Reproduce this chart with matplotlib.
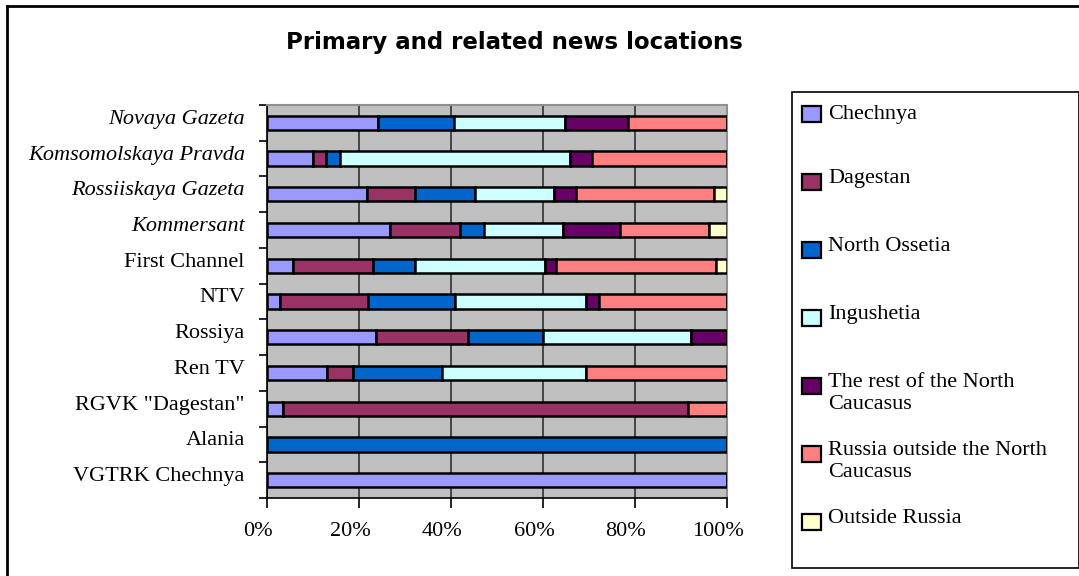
import matplotlib
matplotlib.use('Agg')
import matplotlib.pyplot as plt
import numpy as np
from matplotlib.patches import Rectangle
from matplotlib.lines import Line2D
from matplotlib.transforms import ScaledTranslation

# outlets, top to bottom
outlets = ['Novaya Gazeta', 'Komsomolskaya Pravda', 'Rossiiskaya Gazeta', 'Kommersant',
           'First Channel', 'NTV', 'Rossiya', 'Ren TV', 'RGVK "Dagestan"', 'Alania',
           'VGTRK Chechnya']
italic_outlets = ['Novaya Gazeta', 'Komsomolskaya Pravda', 'Rossiiskaya Gazeta', 'Kommersant']

regions = ['Chechnya', 'Dagestan', 'North Ossetia', 'Ingushetia',
           'The rest of the North\nCaucasus', 'Russia outside the North\nCaucasus',
           'Outside Russia']
colors = ['#9999FF', '#993366', '#0066CC', '#CCFFFF', '#660066', '#FF8080', '#FFFFCC']

# shares in percent, one list per region, in outlet order
chechnya      = [24.1, 10.1, 21.8, 26.7, 5.7, 2.8, 23.8, 13.0, 3.5, 0.0, 100.0]
dagestan      = [0.0, 2.8, 10.3, 15.3, 17.3, 19.1, 20.0, 5.8, 88.0, 0.0, 0.0]
north_ossetia = [16.6, 3.0, 13.2, 5.1, 9.1, 19.0, 16.2, 19.2, 0.0, 100.0, 0.0]
ingushetia    = [24.1, 49.9, 17.0, 17.2, 28.3, 28.4, 32.2, 31.3, 0.0, 0.0, 0.0]
rest_nc       = [13.6, 4.9, 4.9, 12.5, 2.5, 2.9, 7.8, 0.0, 0.0, 0.0, 0.0]
russia_out    = [21.5, 29.3, 29.9, 19.2, 34.6, 27.8, 0.0, 30.7, 8.5, 0.0, 0.0]
outside       = [0.0, 0.0, 2.9, 4.0, 2.5, 0.0, 0.0, 0.0, 0.0, 0.0, 0.0]
series = [chechnya, dagestan, north_ossetia, ingushetia, rest_nc, russia_out, outside]

xticks = [0, 20, 40, 60, 80, 100]
xticklabels = ['0%', '20%', '40%', '60%', '80%', '100%']

W, H = 1079, 576
serif = 'Liberation Serif'

fig = plt.figure(figsize=(W / 100, H / 100), dpi=100)
fig.patch.set_facecolor('white')

# outer frame (cut at right and bottom)
fig.add_artist(Line2D([7 / W, 7 / W], [0, 1 - 6 / H], color='black', lw=2))
fig.add_artist(Line2D([7 / W, 1], [1 - 6 / H, 1 - 6 / H], color='black', lw=2))

ax = fig.add_axes([267 / W, 1 - 498 / H, 460 / W, 393 / H])
ax.set_facecolor('#C0C0C0')

y = np.arange(len(outlets))
left = np.zeros(len(outlets))
for vals, col, name in zip(series, colors, regions):
    vals = np.array(vals)
    ax.barh(y, vals, left=left, height=0.4, color=col, edgecolor='black',
            linewidth=1.8, label=name, zorder=3)
    left += vals

ax.set_xlim(0, 100)
ax.set_ylim(len(outlets) - 0.5, -0.5)
ax.set_xticks(xticks)
ax.set_xticklabels(xticklabels, fontfamily=serif, fontsize=16)
ax.xaxis.grid(True, color='#303030', lw=1.2)
ax.set_axisbelow(True)
ax.tick_params(axis='x', direction='out', length=7, width=1.2, pad=10)
xshift = ScaledTranslation(-9 / 100, 0, fig.dpi_scale_trans)
for lab in ax.get_xticklabels():
    lab.set_transform(lab.get_transform() + xshift)

ax.set_yticks(y)
ax.set_yticklabels(outlets, fontfamily=serif, fontsize=16)
ax.set_yticks(np.arange(len(outlets) + 1) - 0.5, minor=True)
ax.tick_params(axis='y', which='major', length=0, pad=16)
ax.tick_params(axis='y', which='minor', direction='out', length=6, width=1.2)
shift = ScaledTranslation(0, 6 / 100, fig.dpi_scale_trans)
for lab in ax.get_yticklabels():
    lab.set_transform(lab.get_transform() + shift)
    if lab.get_text() in italic_outlets:
        lab.set_fontstyle('italic')

for side in ['left', 'bottom']:
    ax.spines[side].set_color('black')
    ax.spines[side].set_linewidth(1.2)
for side in ['top', 'right']:
    ax.spines[side].set_color('#909090')
    ax.spines[side].set_linewidth(1.5)

fig.text(514 / W, 1 - 43 / H, 'Primary and related news locations',
         fontfamily='DejaVu Sans', fontweight='bold', fontsize=16.5,
         ha='center', va='center')

# legend box
fig.add_artist(Rectangle((792 / W, 1 - 568 / H), (W - 792) / W, 476 / H,
                         transform=fig.transFigure, facecolor='white',
                         edgecolor='black', lw=1.2))
for i, (name, col) in enumerate(zip(regions, colors)):
    yc = 114 + i * 68
    fig.add_artist(Rectangle((802 / W, 1 - (yc + 8) / H), 19 / W, 16 / H,
                             transform=fig.transFigure, facecolor=col,
                             edgecolor='black', lw=1.6))
    top = yc - 9 if i == 0 else yc - 13
    fig.text(828 / W, 1 - top / H, name, fontfamily=serif, fontsize=16,
             ha='left', va='top', linespacing=1.2)

plt.savefig('out.png', dpi=100)
